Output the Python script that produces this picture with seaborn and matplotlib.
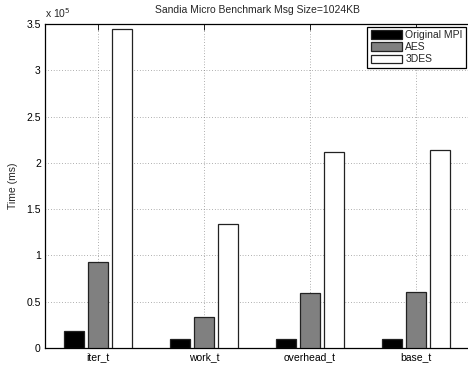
import matplotlib
matplotlib.use("Agg")
import matplotlib.pyplot as plt
from matplotlib.ticker import FuncFormatter, FixedLocator
import seaborn as sns
import pandas as pd

# Benchmark timings (ms) per metric and cipher configuration
metrics = ["iter_t", "work_t", "overhead_t", "base_t"]
series = ["Original MPI", "AES", "3DES"]
original_mpi = [18000, 9400, 9400, 9600]
aes = [92500, 33800, 59000, 60000]
des3 = [345000, 133500, 212000, 213800]
yticks = [0, 50000, 100000, 150000, 200000, 250000, 300000, 350000]

rows = []
for name, vals in zip(series, [original_mpi, aes, des3]):
    for m, v in zip(metrics, vals):
        rows.append({"metric": m, "series": name, "time": v})
df = pd.DataFrame(rows)

sns.set_style("white")
plt.rcParams["font.family"] = ["Liberation Sans", "DejaVu Sans"]
plt.rcParams["font.size"] = 7.5

fig = plt.figure(figsize=(4.68, 3.68), dpi=100)
ax = fig.add_axes([45 / 468, 20 / 368, (469 - 45) / 468, (348 - 24) / 368])

palette = {"Original MPI": "#000000", "AES": "#808080", "3DES": "#ffffff"}
sns.barplot(data=df, x="metric", y="time", hue="series", hue_order=series,
            order=metrics, palette=palette, width=0.67, gap=0.15,
            edgecolor="#222222", linewidth=0.9, saturation=1, ax=ax,
            legend=True, zorder=3)

ax.set_xlim(-0.5, 3.5)
ax.set_ylim(0, 350000)
ax.yaxis.set_major_locator(FixedLocator(yticks))
ax.yaxis.set_major_formatter(FuncFormatter(lambda v, p: f"{v / 1e5:g}"))
ax.set_xlabel("")
ax.set_ylabel("Time (ms)", fontsize=7.5, labelpad=6)
ax.set_title("Sandia Micro Benchmark Msg Size=1024KB", fontsize=7.5, pad=8)
ax.text(0.0, 1.012, r"x 10$^5$", transform=ax.transAxes, fontsize=7.5,
        ha="left", va="bottom")

ax.grid(True, which="major", axis="both", color="#666666", linestyle=(0, (1, 3)),
        linewidth=0.5, zorder=0)
ax.set_axisbelow(True)
ax.tick_params(direction="in", length=4, width=0.6, top=True, right=False,
               labelsize=7.5, pad=3, colors="black")
for s in ax.spines.values():
    s.set_visible(True)
    s.set_color("black")
    s.set_linewidth(0.9)
ax.spines["right"].set_visible(False)

leg = ax.legend(loc="upper right", fontsize=7.5, frameon=True, fancybox=False,
                edgecolor="black", framealpha=1, handlelength=3.0,
                handleheight=0.9, handletextpad=0.3, labelspacing=0.2,
                borderpad=0.35, borderaxespad=0.25)
leg.get_frame().set_linewidth(0.9)

fig.savefig("out.png", dpi=100)
